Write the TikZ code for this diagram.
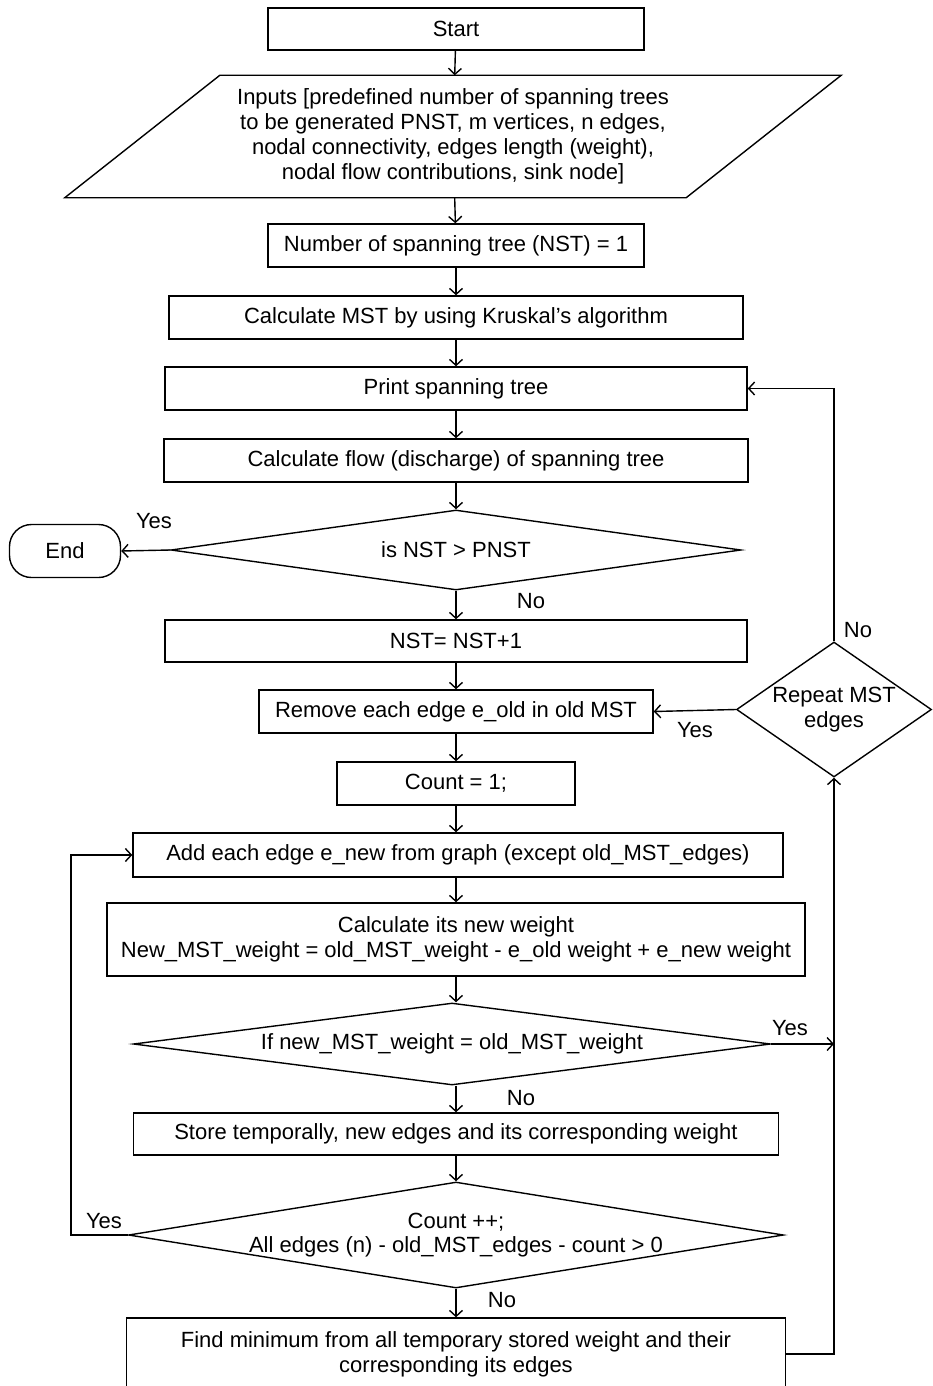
\documentclass[tikz,border=0pt]{standalone}
\usepackage{fontspec}
\setmainfont{Liberation Sans}
\usetikzlibrary{shapes.geometric,arrows.meta}

\begin{document}
\begin{tikzpicture}[x=0.5pt,y=-0.5pt,
  font=\fontsize{11}{12.4}\selectfont, line width=0.7pt,
  >={Straight Barb[length=3pt,width=6.5pt]},
  box/.style={draw, rectangle, minimum height=21.5pt, inner sep=2pt, align=center},
  io/.style={rectangle, minimum width=310pt, minimum height=60.5pt, inner sep=0pt, align=center},
  decide/.style={draw, diamond, inner sep=0pt, align=center},
  term/.style={draw, rectangle, rounded corners=11pt, minimum width=55.5pt, minimum height=26.5pt},
  lbl/.style={inner sep=0pt}]
\useasboundingbox (0,0) rectangle (932,1386);

\node[box, minimum width=188pt, minimum height=21pt] (start) at (456,29) {Start};
\node[io] (inputs) at (453,136.5) {Inputs [predefined number of spanning trees\\to be generated PNST, m vertices, n edges,\\nodal connectivity, edges length (weight),\\nodal flow contributions, sink node]};
\draw ([xshift=38.75pt]inputs.north west) -- ([xshift=38.75pt]inputs.north east)
  -- ([xshift=-38.75pt]inputs.south east) -- ([xshift=-38.75pt]inputs.south west) -- cycle;
\node[box, minimum width=188pt] (nst) at (456,245.5) {Number of spanning tree (NST) = 1};
\node[box, minimum width=287pt] (mst) at (456,317.5) {Calculate MST by using Kruskal's algorithm};
\node[box, minimum width=291pt] (print) at (456,388.5) {Print spanning tree};
\node[box, minimum width=292pt] (flow) at (456,460.5) {Calculate flow (discharge) of spanning tree};
\node[decide, minimum width=285pt, minimum height=40pt, aspect=7.1] (check) at (456,550) {is NST > PNST};
\node[term] (theend) at (65,551) {End};
\node[box, minimum width=291pt, minimum height=21pt] (incr) at (456,641) {NST= NST+1};
\node[box, minimum width=197pt] (remove) at (456,711.5) {Remove each edge e\_old in old MST};
\node[decide, minimum width=97.5pt, minimum height=67.5pt, aspect=1.44] (repeat) at (834,709.5) {Repeat MST\\edges};
\node[box, minimum width=119pt] (count) at (456,783.5) {Count = 1;};
\node[box, minimum width=325pt, minimum height=22pt] (add) at (458,855) {Add each edge e\_new from graph (except old\_MST\_edges)};
\node[box, minimum width=349pt, minimum height=36.5pt] (calc) at (456,939.5) {Calculate its new weight\\New\_MST\_weight = old\_MST\_weight - e\_old weight + e\_new weight};
\node[decide, minimum width=318.5pt, minimum height=41pt, aspect=7.8] (same) at (452,1044) {If new\_MST\_weight = old\_MST\_weight};
\node[box, minimum width=322.5pt, minimum height=21pt] (store) at (456,1134) {Store temporally, new edges and its corresponding weight};
\node[decide, minimum width=327.5pt, minimum height=53pt, aspect=6.2, inner sep=-6pt] (more) at (456,1235) {Count ++;\\All edges (n) - old\_MST\_edges - count > 0};
\node[box, minimum width=329.5pt, minimum height=36pt] (find) at (456,1354) {Find minimum from all temporary stored weight and their\\corresponding its edges};

\node[lbl] (yes1) at (154,521) {Yes};
\node[lbl] (no1) at (531,601) {No};
\node[lbl] (yes2) at (695,730) {Yes};
\node[lbl] (no2) at (858,630) {No};
\node[lbl] (yes3) at (790,1028) {Yes};
\node[lbl] (no3) at (521,1098) {No};
\node[lbl] (yes4) at (104,1221) {Yes};
\node[lbl] (no4) at (502,1300) {No};

\draw[->] (start) -- (inputs);
\draw[->] (inputs) -- (nst);
\draw[->] (nst) -- (mst);
\draw[->] (mst) -- (print);
\draw[->] (print) -- (flow);
\draw[->] (flow) -- (check);
\draw[->] (check) -- (incr);
\draw[->] (check.west) -- (theend.east);
\draw[->] (incr) -- (remove);
\draw[->] (remove) -- (count);
\draw[->] (count.south) -- (count.south |- add.north);
\draw[->] (count.south |- add.south) -- (calc.north);
\draw[->] (calc.south) -- (calc.south |- same.north);
\draw[->] (calc.south |- same.south) -- (store.north);
\draw[->] (store) -- (more);
\draw[->] (more) -- (find);
\draw[->] (repeat.west) -- (remove.east);
\draw[->] (repeat.north) |- (print.east);
\draw[->] (same.east) -- (same.east -| repeat.south);
\draw[->] (more.west) -- +(-57,0) |- (add.west);
\draw[->] (find.east) -| (repeat.south);
\end{tikzpicture}
\end{document}
